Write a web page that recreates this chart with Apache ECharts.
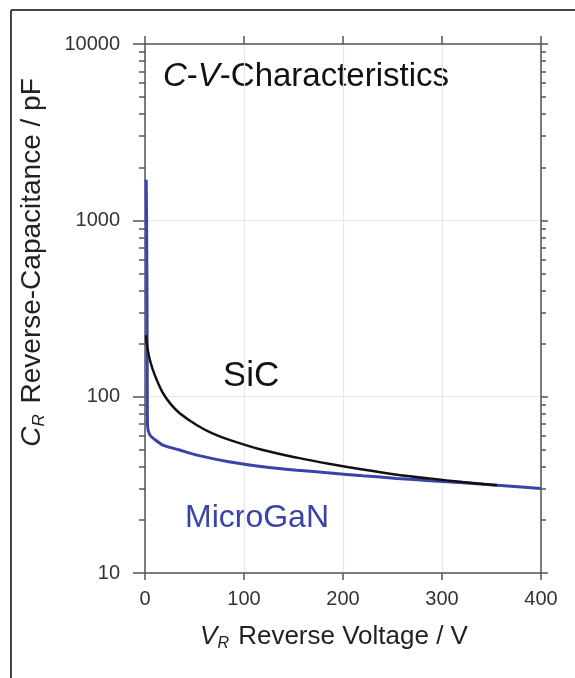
<!DOCTYPE html>
<html>
<head>
<meta charset="utf-8">
<script src="https://cdn.jsdelivr.net/npm/echarts@6/dist/echarts.min.js"></script>
<style>
html, body { margin: 0; padding: 0; background: #fff; }
#chart { width: 575px; height: 678px; }
</style>
</head>
<body>
<div id="chart"></div>
<script>
// axis ticks
const xTicks = [0, 100, 200, 300, 400];
const yMinorTicks = [20, 30, 40, 50, 60, 70, 80, 90,
  200, 300, 400, 500, 600, 700, 800, 900,
  2000, 3000, 4000, 5000, 6000, 7000, 8000, 9000];

// C-V curves: [V, pF]
const sicData = [
  [1, 223], [2, 196], [5, 161], [10, 132], [18, 105], [26, 90.7], [35, 80.6],
  [52.5, 68.9], [68.7, 61.7], [86, 56.7], [119, 49.8], [153.5, 45.1],
  [187, 41.5], [220, 38.6], [254.5, 36.1], [288, 34.3], [321, 32.8], [355.5, 31.5]
];
const ganData = [
  [1.2, 1700], [1.6, 1000], [2, 400], [2.3, 120], [2.6, 68], [5, 60.5],
  [10, 57.1], [18, 53.1], [35, 49.8], [52.5, 46.6], [86, 42.6], [119, 40.1],
  [153.5, 38.3], [187, 36.9], [220, 35.6], [254.5, 34.4], [288, 33.4],
  [321, 32.5], [355.5, 31.5], [400, 30.1]
];

const font = 'Liberation Sans, Arial, sans-serif';
const blue = '#3a43a8';
const axisColor = '#555';

const chart = echarts.init(document.getElementById('chart'));

const logAxis = {
  type: 'log',
  logBase: 10,
  min: 10,
  max: 10000
};

const option = {
  animation: false,
  grid: { left: 145, right: 34, top: 44, bottom: 105 },
  xAxis: [
    {
      type: 'value',
      min: xTicks[0],
      max: xTicks[xTicks.length - 1],
      interval: 100,
      position: 'bottom',
      axisLine: { lineStyle: { color: axisColor, width: 1.5 } },
      axisTick: { length: 7, lineStyle: { color: axisColor, width: 1.5 } },
      axisLabel: { fontFamily: font, fontSize: 20, color: '#333', margin: 16 },
      splitLine: { lineStyle: { color: '#e6e6e6', width: 1.2 } },
      name: '{v|V}{sub|R} Reverse Voltage / V',
      nameLocation: 'middle',
      nameGap: 49,
      nameTextStyle: {
        fontFamily: font, fontSize: 26, color: '#222',
        padding: [0, 18, 0, 0],
        rich: {
          v: { fontFamily: font, fontSize: 26, fontStyle: 'italic', color: '#222' },
          sub: { fontFamily: font, fontSize: 16, fontStyle: 'italic', color: '#222', verticalAlign: 'bottom', padding: [14, 2, 0, 0] }
        }
      }
    },
    {
      type: 'value',
      min: xTicks[0],
      max: xTicks[xTicks.length - 1],
      interval: 100,
      position: 'top',
      axisLine: { lineStyle: { color: axisColor, width: 1.5 } },
      axisTick: { length: 8, lineStyle: { color: axisColor, width: 1.5 } },
      axisLabel: { show: false },
      splitLine: { show: false }
    }
  ],
  yAxis: [
    Object.assign({}, logAxis, {
      position: 'left',
      axisLine: { show: true, lineStyle: { color: axisColor, width: 1.5 } },
      axisTick: { show: true, length: 12, lineStyle: { color: axisColor, width: 1.5 } },
      axisLabel: {
        fontFamily: font, fontSize: 20, color: '#333', margin: 25,
        formatter: (v) => String(Math.round(v))
      },
      splitLine: { show: true, lineStyle: { color: '#e6e6e6', width: 1.2 } },
      name: '{c|C}{sub|R} Reverse-Capacitance / pF',
      nameLocation: 'middle',
      nameRotate: 90,
      nameGap: 97,
      nameTextStyle: {
        fontFamily: font, fontSize: 28, color: '#222',
        padding: [0, 0, 0, 92],
        rich: {
          c: { fontFamily: font, fontSize: 28, fontStyle: 'italic', color: '#222' },
          sub: { fontFamily: font, fontSize: 17, fontStyle: 'italic', color: '#222', verticalAlign: 'bottom', padding: [15, 3, 0, 0] }
        }
      }
    }),
    Object.assign({}, logAxis, {
      position: 'left',
      axisLine: { show: false },
      axisTick: { show: true, length: 6, customValues: yMinorTicks, lineStyle: { color: axisColor, width: 1.5 } },
      axisLabel: { show: false },
      splitLine: { show: false }
    }),
    Object.assign({}, logAxis, {
      position: 'right',
      axisLine: { show: true, lineStyle: { color: axisColor, width: 1.5 } },
      axisTick: { show: true, length: 7, lineStyle: { color: axisColor, width: 1.5 } },
      axisLabel: { show: false },
      splitLine: { show: false }
    }),
    Object.assign({}, logAxis, {
      position: 'right',
      axisLine: { show: false },
      axisTick: { show: true, length: 5, customValues: yMinorTicks, lineStyle: { color: axisColor, width: 1.5 } },
      axisLabel: { show: false },
      splitLine: { show: false }
    })
  ],
  graphic: [
    // cropped frame of the figure
    { type: 'line', shape: { x1: 11, y1: 10, x2: 575, y2: 10 }, style: { stroke: '#444', lineWidth: 2 } },
    { type: 'line', shape: { x1: 11, y1: 10, x2: 11, y2: 678 }, style: { stroke: '#444', lineWidth: 2 } },
    {
      type: 'text', left: 163, top: 60,
      style: {
        text: '{i|C}-{i|V}-Characteristics',
        font: '33px ' + font, fill: '#111',
        rich: { i: { fontFamily: font, fontSize: 33, fontStyle: 'italic', fill: '#111' } }
      }
    },
    { type: 'text', left: 223, top: 359, style: { text: 'SiC', font: '35px ' + font, fill: '#111' } },
    { type: 'text', left: 185, top: 502, style: { text: 'MicroGaN', font: '32px ' + font, fill: blue } }
  ],
  series: [
    {
      name: 'SiC',
      type: 'line',
      data: sicData,
      showSymbol: false,
      smooth: 0.3,
      lineStyle: { color: '#111', width: 2.5 },
      z: 3
    },
    {
      name: 'MicroGaN',
      type: 'line',
      data: ganData,
      showSymbol: false,
      smooth: 0.2,
      lineStyle: { color: blue, width: 3 },
      z: 2
    }
  ]
};

chart.setOption(option);
</script>
</body>
</html>
